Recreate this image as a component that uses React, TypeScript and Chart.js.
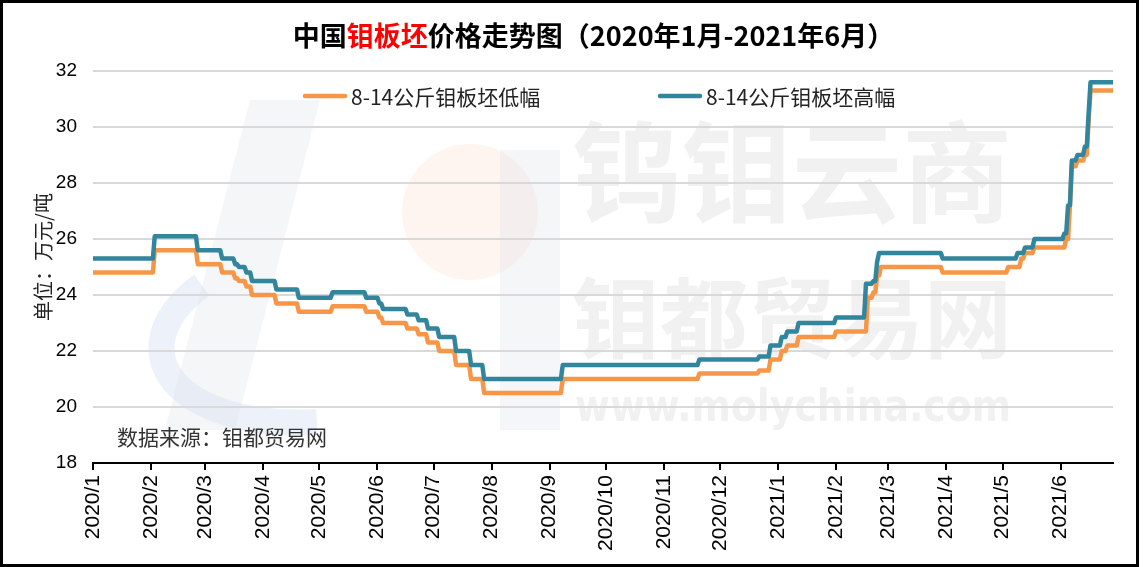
import React, { useEffect, useRef } from 'react';
import { Chart, registerables } from 'chart.js';

Chart.register(...registerables);

// ---------- text ----------
const titlePre = '中国';
const titleRed = '钼板坯';
const titlePost = '价格走势图（2020年1月-2021年6月）';
const yAxisTitle = '单位：万元/吨';
const sourceNote = '数据来源：钼都贸易网';
const seriesNames = ['8-14公斤钼板坯低幅', '8-14公斤钼板坯高幅'];
const watermarkLine1 = '钨钼云商';
const watermarkLine2 = '钼都贸易网';
const watermarkLine3 = 'www.molychina.com';

// ---------- axes ----------
const startDate = '2020-01-01';
const endDate = '2021-06-29';
const monthTickDates = [
  '2020-01-01', '2020-02-01', '2020-03-01', '2020-04-01', '2020-05-01', '2020-06-01',
  '2020-07-01', '2020-08-01', '2020-09-01', '2020-10-01', '2020-11-01', '2020-12-01',
  '2021-01-01', '2021-02-01', '2021-03-01', '2021-04-01', '2021-05-01', '2021-06-01',
];
const monthTickLabels = [
  '2020/1', '2020/2', '2020/3', '2020/4', '2020/5', '2020/6',
  '2020/7', '2020/8', '2020/9', '2020/10', '2020/11', '2020/12',
  '2021/1', '2021/2', '2021/3', '2021/4', '2021/5', '2021/6',
];
const yMin = 18;
const yMax = 32;
const yStep = 2;

// ---------- data: dates where a new price starts, and that price ----------
const lowChangeDates = [
  '2020-01-01', '2020-02-03', '2020-02-26', '2020-03-10', '2020-03-17', '2020-03-19',
  '2020-03-23', '2020-03-26', '2020-04-08', '2020-04-20', '2020-05-08', '2020-05-26',
  '2020-06-02', '2020-06-04', '2020-06-17', '2020-06-23', '2020-06-28', '2020-07-04',
  '2020-07-13', '2020-07-21', '2020-07-28', '2020-09-08', '2020-11-20', '2020-12-22',
  '2020-12-28', '2021-01-03', '2021-01-06', '2021-01-12', '2021-02-01', '2021-02-18',
  '2021-02-21', '2021-02-23', '2021-02-25', '2021-03-30', '2021-05-04', '2021-05-11',
  '2021-05-13', '2021-05-18', '2021-06-04', '2021-06-06', '2021-06-07', '2021-06-10',
  '2021-06-14', '2021-06-16', '2021-06-17',
];
const lowChangeValues = [
  24.8, 25.6, 25.1, 24.8, 24.6, 24.5,
  24.3, 24.0, 23.7, 23.4, 23.6, 23.4,
  23.2, 23.0, 22.8, 22.6, 22.3, 22.0,
  21.5, 21.0, 20.5, 21.0, 21.2, 21.3,
  21.7, 22.0, 22.2, 22.5, 22.7, 23.9,
  24.1, 24.7, 25.0, 24.8, 25.0, 25.3,
  25.5, 25.7, 26.0, 27.2, 28.6, 28.8,
  29.0, 30.3, 31.3,
];
const highChangeDates = [
  '2020-01-01', '2020-02-03', '2020-02-26', '2020-03-10', '2020-03-17', '2020-03-19',
  '2020-03-23', '2020-03-26', '2020-04-08', '2020-04-20', '2020-05-08', '2020-05-26',
  '2020-06-02', '2020-06-04', '2020-06-17', '2020-06-23', '2020-06-28', '2020-07-04',
  '2020-07-13', '2020-07-21', '2020-07-28', '2020-09-08', '2020-11-20', '2020-12-22',
  '2020-12-28', '2021-01-03', '2021-01-06', '2021-01-12', '2021-02-01', '2021-02-17',
  '2021-02-21', '2021-02-23', '2021-02-24', '2021-03-30', '2021-05-09', '2021-05-13',
  '2021-05-18', '2021-06-03', '2021-06-05', '2021-06-07', '2021-06-10', '2021-06-14',
  '2021-06-16', '2021-06-17',
];
const highChangeValues = [
  25.3, 26.1, 25.6, 25.3, 25.1, 25.0,
  24.8, 24.5, 24.2, 23.9, 24.1, 23.9,
  23.7, 23.5, 23.3, 23.1, 22.8, 22.5,
  22.0, 21.5, 21.0, 21.5, 21.7, 21.8,
  22.2, 22.5, 22.7, 23.0, 23.2, 24.4,
  24.5, 25.2, 25.5, 25.3, 25.5, 25.7,
  26.0, 26.2, 27.2, 28.8, 29.0, 29.3,
  30.5, 31.6,
];

const lowColor = '#F79646';
const highColor = '#31859C';

function dayIndex(s: string): number {
  const [y, m, d] = s.split('-').map(Number);
  const [y0, m0, d0] = startDate.split('-').map(Number);
  return Math.round((Date.UTC(y, m - 1, d) - Date.UTC(y0, m0 - 1, d0)) / 86400000);
}

// daily price series drawn as Excel would: the price holds until the day before a change
function buildSeries(dates: string[], values: number[]) {
  const pts: { x: number; y: number }[] = [];
  dates.forEach((ds, i) => {
    const d = dayIndex(ds);
    if (i > 0) pts.push({ x: d - 1, y: values[i - 1] });
    pts.push({ x: d, y: values[i] });
  });
  pts.push({ x: dayIndex(endDate), y: values[values.length - 1] });
  return pts;
}

const CJK = '"Noto Sans CJK SC", "Noto Sans", sans-serif';

const decorPlugin = {
  id: 'decor',
  beforeDraw(chart: any) {
    const ctx = chart.ctx;
    ctx.save();
    ctx.fillStyle = '#ffffff';
    ctx.fillRect(0, 0, chart.width, chart.height);
    // faint logo
    ctx.fillStyle = 'rgba(250, 205, 185, 0.22)';
    ctx.beginPath();
    ctx.arc(470, 212, 68, 0, Math.PI * 2);
    ctx.fill();
    ctx.strokeStyle = 'rgba(200, 215, 240, 0.35)';
    ctx.lineWidth = 26;
    ctx.beginPath();
    ctx.ellipse(330, 330, 170, 90, -0.15, Math.PI * 0.55, Math.PI * 1.25);
    ctx.stroke();
    ctx.fillStyle = 'rgba(225, 228, 235, 0.35)';
    ctx.beginPath();
    ctx.moveTo(250, 100);
    ctx.lineTo(320, 100);
    ctx.lineTo(235, 430);
    ctx.lineTo(165, 430);
    ctx.closePath();
    ctx.fill();
    ctx.beginPath();
    ctx.moveTo(500, 150);
    ctx.lineTo(560, 150);
    ctx.lineTo(560, 430);
    ctx.lineTo(500, 430);
    ctx.closePath();
    ctx.fill();
    // watermark text
    ctx.fillStyle = '#f1f1f1';
    ctx.textBaseline = 'middle';
    ctx.textAlign = 'left';
    ctx.font = `bold 110px ${CJK}`;
    ctx.fillText(watermarkLine1, 572, 172, 440);
    ctx.font = `bold 88px ${CJK}`;
    ctx.fillText(watermarkLine2, 572, 318, 440);
    ctx.font = `bold 44px "DejaVu Sans", sans-serif`;
    ctx.fillText(watermarkLine3, 575, 410, 436);
    ctx.restore();
  },
  afterDraw(chart: any) {
    const ctx = chart.ctx;
    ctx.save();
    // title
    ctx.font = `bold 27px ${CJK}`;
    ctx.textBaseline = 'middle';
    ctx.textAlign = 'left';
    const w1 = ctx.measureText(titlePre).width;
    const w2 = ctx.measureText(titleRed).width;
    const w3 = ctx.measureText(titlePost).width;
    let x = 593.5 - (w1 + w2 + w3) / 2;
    const ty = 36;
    ctx.fillStyle = '#000';
    ctx.fillText(titlePre, x, ty);
    x += w1;
    ctx.fillStyle = '#ff0000';
    ctx.fillText(titleRed, x, ty);
    x += w2;
    ctx.fillStyle = '#000';
    ctx.fillText(titlePost, x, ty);

    // legend
    const legendItems = [
      { name: seriesNames[0], color: lowColor, x0: 305 },
      { name: seriesNames[1], color: highColor, x0: 660 },
    ];
    ctx.font = `21px ${CJK}`;
    legendItems.forEach((it) => {
      ctx.strokeStyle = it.color;
      ctx.lineWidth = 4.5;
      ctx.lineCap = 'round';
      ctx.beginPath();
      ctx.moveTo(it.x0, 96);
      ctx.lineTo(it.x0 + 40, 96);
      ctx.stroke();
      ctx.fillStyle = '#222';
      ctx.fillText(it.name, it.x0 + 46, 97);
    });

    // source
    ctx.fillStyle = '#333';
    ctx.font = `21px ${CJK}`;
    ctx.fillText(sourceNote, 117, 437);

    // y axis title
    ctx.save();
    ctx.translate(43, 257);
    ctx.rotate(-Math.PI / 2);
    ctx.textAlign = 'center';
    ctx.font = `20px ${CJK}`;
    ctx.fillStyle = '#222';
    ctx.fillText(yAxisTitle, 0, 0);
    ctx.restore();

    // frame
    ctx.strokeStyle = '#000';
    ctx.lineWidth = 3;
    ctx.strokeRect(1.5, 1.5, 1136, 564);
    ctx.restore();
  },
};

export default function App() {
  const canvasRef = useRef<HTMLCanvasElement | null>(null);

  useEffect(() => {
    document.body.style.margin = '0';
    const canvas = canvasRef.current;
    if (!canvas) return;
    const tickValues = monthTickDates.map(dayIndex);
    const chart = new Chart(canvas, {
      type: 'line',
      data: {
        datasets: [
          {
            label: seriesNames[0],
            data: buildSeries(lowChangeDates, lowChangeValues),
            borderColor: lowColor,
            backgroundColor: lowColor,
            borderWidth: 4.5,
            pointRadius: 0,
            tension: 0,
            borderJoinStyle: 'round',
            borderCapStyle: 'round',
            order: 2,
          },
          {
            label: seriesNames[1],
            data: buildSeries(highChangeDates, highChangeValues),
            borderColor: highColor,
            backgroundColor: highColor,
            borderWidth: 4.5,
            pointRadius: 0,
            tension: 0,
            borderJoinStyle: 'round',
            borderCapStyle: 'round',
            order: 1,
          },
        ],
      },
      options: {
        responsive: false,
        animation: false,
        devicePixelRatio: 1,
        layout: { padding: { left: 0, right: 32, top: 71, bottom: 0 } },
        plugins: {
          legend: { display: false },
          title: { display: false },
          tooltip: { enabled: false },
        },
        scales: {
          x: {
            type: 'linear',
            min: dayIndex(startDate),
            max: dayIndex(endDate),
            afterBuildTicks: (scale: any) => {
              scale.ticks = tickValues.map((v) => ({ value: v }));
            },
            afterFit: (scale: any) => {
              scale.height = 104;
            },
            ticks: {
              autoSkip: false,
              maxRotation: 90,
              minRotation: 90,
              padding: 5,
              color: '#000',
              font: { family: '"Liberation Sans", Arial, sans-serif', size: 21 },
              callback: (_v: any, i: number) => monthTickLabels[i],
            },
            grid: {
              drawOnChartArea: false,
              drawTicks: true,
              tickLength: 7,
              color: '#000',
              lineWidth: 2,
            },
            border: { display: true, color: '#000', width: 2 },
          },
          y: {
            min: yMin,
            max: yMax,
            afterFit: (scale: any) => {
              scale.width = 93;
            },
            ticks: {
              stepSize: yStep,
              padding: 16,
              color: '#000',
              font: { family: '"Liberation Sans", Arial, sans-serif', size: 19 },
            },
            grid: {
              drawTicks: false,
              color: '#d9d9d9',
              lineWidth: 2,
            },
            border: { display: false },
          },
        },
      },
      plugins: [decorPlugin],
    } as any);
    return () => chart.destroy();
  }, []);

  return (
    <div style={{ width: 1145, height: 567, position: 'relative' }}>
      <canvas ref={canvasRef} width={1145} height={567} style={{ display: 'block' }} />
    </div>
  );
}
